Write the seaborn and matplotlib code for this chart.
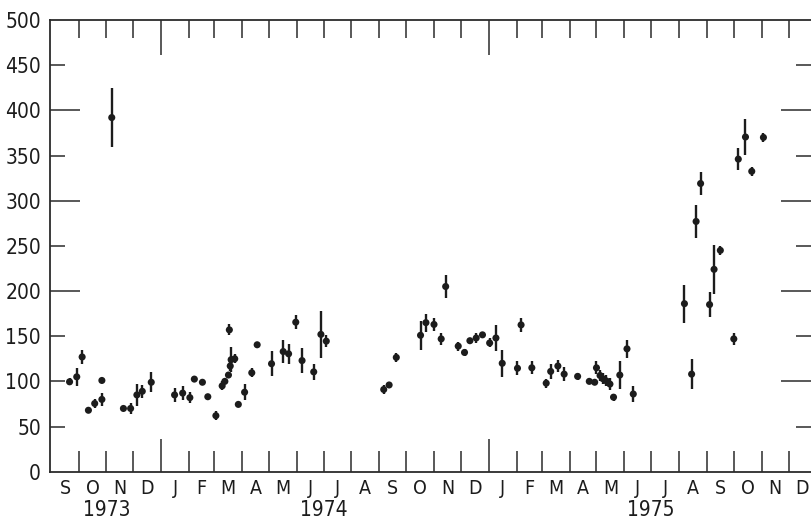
import matplotlib
matplotlib.use("Agg")
import matplotlib.pyplot as plt
import pandas as pd
import seaborn as sns

# Observation dates, measured values and one-sigma uncertainties
dates = [
    "1973-09-21", "1973-09-29", "1973-10-05", "1973-10-12", "1973-10-19",
    "1973-10-27", "1973-10-27", "1973-11-07", "1973-11-20", "1973-11-28",
    "1973-12-05", "1973-12-11", "1973-12-21",
    "1974-01-16", "1974-01-25", "1974-02-02", "1974-02-07", "1974-02-16",
    "1974-02-22", "1974-03-03", "1974-03-10", "1974-03-13", "1974-03-17",
    "1974-03-18", "1974-03-19", "1974-03-20", "1974-03-24", "1974-03-28",
    "1974-04-04", "1974-04-12", "1974-04-18", "1974-05-04", "1974-05-17",
    "1974-05-23", "1974-05-31", "1974-06-07", "1974-06-20", "1974-06-28",
    "1974-07-04",
    "1974-09-06", "1974-09-12", "1974-09-20", "1974-10-17", "1974-10-23",
    "1974-11-01", "1974-11-09", "1974-11-14", "1974-11-28", "1974-12-05",
    "1974-12-11", "1974-12-18", "1974-12-25",
    "1975-01-02", "1975-01-09", "1975-01-16", "1975-02-02", "1975-02-06",
    "1975-02-18", "1975-03-06", "1975-03-11", "1975-03-19", "1975-03-26",
    "1975-04-10", "1975-04-23", "1975-04-29", "1975-05-01", "1975-05-05",
    "1975-05-08", "1975-05-12", "1975-05-16", "1975-05-20", "1975-05-27",
    "1975-06-04", "1975-06-11",
    "1975-08-07", "1975-08-15", "1975-08-20", "1975-08-25", "1975-09-04",
    "1975-09-09", "1975-09-16", "1975-10-01", "1975-10-06", "1975-10-14",
    "1975-10-21", "1975-11-03",
]
values = [
    99.5, 105, 127, 68, 75.5,
    101, 80, 392, 70, 70,
    85, 89, 99,
    85, 87, 82, 102.5, 99,
    83, 62, 95, 100, 107,
    157, 117, 124, 125, 74.5,
    88, 109.5, 140.5, 119.5, 133,
    130.5, 165.5, 123, 110.5, 152,
    144.5,
    91, 96, 126.5, 151, 165,
    163, 147, 205, 139, 132,
    145, 148, 151.5,
    142.5, 148, 120, 114.5, 162.5,
    115, 98, 111, 117, 108,
    105.5, 100, 99, 115, 106.5,
    103, 100.5, 97, 82.5, 107,
    136, 86,
    186, 108, 277, 319, 185,
    224, 245, 147, 346, 370.5,
    332.5, 370,
]
errors = [
    4, 10, 8, 0, 5,
    0, 7, 33, 0, 6,
    12, 7, 11,
    8, 8, 6, 0, 0,
    0, 5, 5, 0, 0,
    6, 5, 14, 5, 0,
    9, 5, 0, 14, 13,
    11, 8, 14, 9, 26,
    7,
    5, 0, 5, 16, 10,
    7, 7, 13, 5, 4,
    0, 5, 0,
    5, 14, 15, 8, 8,
    7, 5, 8, 7, 8,
    4, 0, 0, 7, 6,
    6, 6, 7, 4, 16,
    10, 9,
    21, 17, 18, 13, 14,
    27, 5, 7, 12, 20,
    5, 5,
]

month_letters = ["S", "O", "N", "D",
                 "J", "F", "M", "A", "M", "J", "J", "A", "S", "O", "N", "D",
                 "J", "F", "M", "A", "M", "J", "J", "A", "S", "O", "N", "D"]
year_labels = ["1973", "1974", "1975"]
year_label_dates = ["1973-11-01", "1974-07-01", "1975-07-01"]
y_ticks = list(range(0, 501, 50))

ink = "#1c1c1c"
line_ink = "#2b2b2b"

sns.set_theme(style="white")
plt.rcParams["font.family"] = ["DejaVu Sans"]
plt.rcParams["font.stretch"] = "condensed"

df = pd.DataFrame({"date": pd.to_datetime(dates), "value": values, "err": errors})

fig = plt.figure(figsize=(8.11, 5.22), dpi=100)
ax = fig.add_axes([50 / 811, 1 - 471.7 / 522, 761 / 811, 451.7 / 522])

ax.errorbar(df["date"], df["value"], yerr=df["err"], fmt="none",
            ecolor=ink, elinewidth=1.7, capsize=0, zorder=2)
sns.scatterplot(data=df, x="date", y="value", ax=ax, color=ink, s=26,
                edgecolor="none", linewidth=0, zorder=3, legend=False)

start = pd.Timestamp("1973-09-01")
ax.set_xlim(start - pd.Timedelta(days=1.8), start + pd.Timedelta(days=846))
ax.set_ylim(0, 500)
ax.set_xlabel("")
ax.set_ylabel("")

# month boundaries as major ticks, month letters on mid-month minor ticks
month_starts = pd.date_range("1973-10-01", "1975-12-01", freq="MS")
all_months = pd.date_range("1973-09-01", "1975-12-01", freq="MS")
mids = [m + (m + pd.offsets.MonthBegin(1) - m) / 2 for m in all_months]

ax.set_xticks(month_starts)
ax.set_xticklabels([""] * len(month_starts))
ax.set_xticks(mids, minor=True)
ax.set_xticklabels(month_letters, minor=True)

ax.set_yticks(y_ticks)
ax.set_yticklabels([str(v) for v in y_ticks])

ax.tick_params(axis="x", which="major", direction="in", top=True, bottom=True,
               width=1.1, color=line_ink)
ax.tick_params(axis="x", which="minor", length=0, pad=5, labelsize=14,
               labelcolor=ink)
ax.tick_params(axis="y", which="major", direction="in", left=True, right=True,
               width=1.1, color=line_ink, pad=6.5, labelsize=15, labelcolor=ink)

px = 72 / 100  # points per pixel
for m, tick in zip(month_starts, ax.xaxis.get_major_ticks(len(month_starts))):
    if m.month == 1:
        tick.tick1line.set_markersize(33 * px)
        tick.tick2line.set_markersize(35 * px)
    else:
        tick.tick1line.set_markersize(21 * px)
        tick.tick2line.set_markersize(18 * px)

for v, tick in zip(y_ticks, ax.yaxis.get_major_ticks(len(y_ticks))):
    if v in (0, 500):
        left_len = right_len = 0
    else:
        left_len = 30 if v in (200, 300, 400) else 15
        right_len = 30 if v % 100 == 0 else 15
    tick.tick1line.set_markersize(left_len * px)
    tick.tick2line.set_markersize(right_len * px)

for label, d in zip(year_labels, year_label_dates):
    ax.annotate(label, xy=(pd.Timestamp(d), 0), xycoords=("data", "axes fraction"),
                xytext=(0, -38), textcoords="offset pixels",
                ha="center", va="center", fontsize=15, color=ink)

for side in ("left", "bottom", "top"):
    ax.spines[side].set_visible(True)
    ax.spines[side].set_color(line_ink)
    ax.spines[side].set_linewidth(1.3)
ax.spines["right"].set_visible(False)

fig.savefig("out.png", dpi=100, facecolor="white")
